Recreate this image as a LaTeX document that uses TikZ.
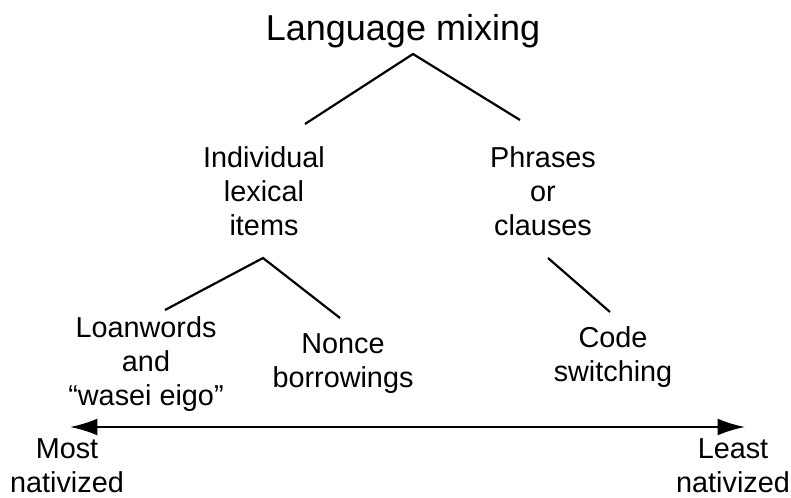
\documentclass[tikz,border=0pt]{standalone}
\usepackage{fontspec}
\setmainfont{Liberation Sans}
\usetikzlibrary{arrows.meta,positioning}
\tikzstyle{term}=[align=center,inner sep=0pt,font=\fontsize{16.4}{19.4}\selectfont]
\tikzstyle{heading}=[inner sep=0pt,font=\fontsize{20.5}{24}\selectfont]
\tikzstyle{branch}=[line width=1.25pt]

\begin{document}
\begin{tikzpicture}[x=0.02cm,y=-0.02cm,>={Latex[length=5.5mm,width=3.4mm]}]
  \useasboundingbox (0,0) rectangle (791,497);

  % root
  \node[heading] (mix) at (403,31) {Language mixing};

  % second level
  \node[term] (lex) at (264,191) {Individual\\lexical\\items};
  \node[term] (phr) at (543,191) {Phrases\\or\\clauses};

  % third level
  \node[term] (loan) at (146,364) {Loanwords\\and\\“wasei eigo”};
  \node[term] (nonce) at (343,364) {Nonce\\borrowings};
  \node[term] (code) at (613,357) {Code\\switching};

  % branch ends
  \coordinate (mixfoot) at (413,54);
  \coordinate (lextop) at (305,124);
  \coordinate (phrtop) at (520,120);
  \coordinate (lexfoot) at (263,258);
  \coordinate (loantop) at (165,310);
  \coordinate (noncetop) at (340,318);
  \coordinate (phrfoot) at (548,258);
  \coordinate (codetop) at (610,312);

  \draw[branch] (lextop) -- (mixfoot) -- (phrtop);
  \draw[branch] (loantop) -- (lexfoot) -- (noncetop);
  \draw[branch] (phrfoot) -- (codetop);

  % scale
  \node[term] (most) at (67,466) {Most\\nativized};
  \node[term] (least) at (733,466) {Least\\nativized};
  \coordinate (lend) at (70,427);
  \coordinate (rend) at (745,427);
  \draw[branch,<->] (lend) -- (rend);

\end{tikzpicture}
\end{document}
